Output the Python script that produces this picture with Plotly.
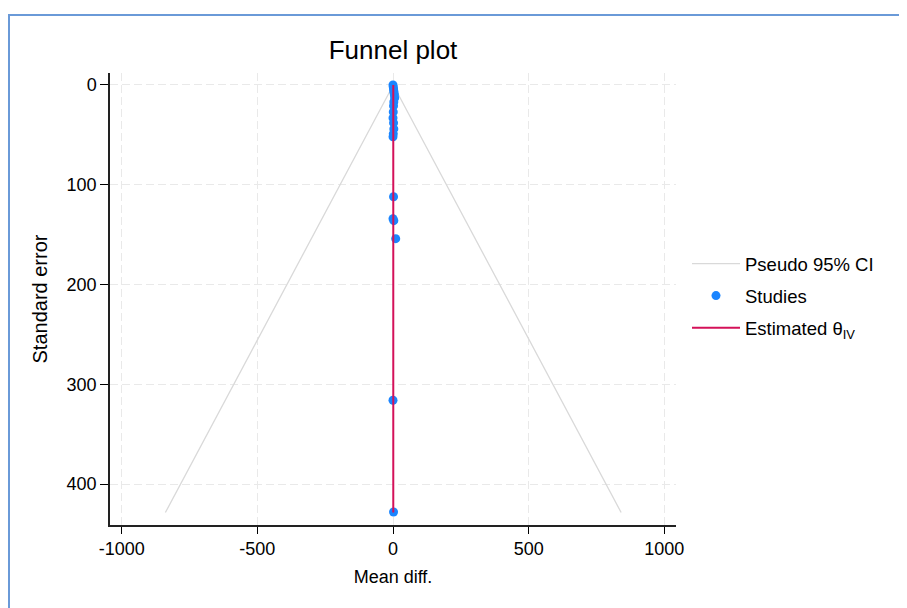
import plotly.graph_objects as go

# Study data (mean difference, standard error)
study_effect = [0, 1, 2, 3, 4, 5, 6, 3, 2, 1, 0, 2, 3, 1, 0, 2, 0, 3, 10, 0, 2]
study_se = [0, 2, 4, 6, 8, 10, 13, 17, 21, 27, 33, 38, 44, 49, 52, 112, 134, 136, 154, 316, 428]

theta_iv = 1.0
se_max = 428.5
z = 1.96

x_ticks = [-1000, -500, 0, 500, 1000]
x_labels = ["-1000", "-500", "0", "500", "1000"]
y_ticks = [0, 100, 200, 300, 400]
y_labels = ["0", "100", "200", "300", "400"]

FONT = "Liberation Sans, Arial, sans-serif"

fig = go.Figure()

fig.add_trace(go.Scatter(
    x=[theta_iv - z * se_max, theta_iv, theta_iv + z * se_max],
    y=[se_max, 0, se_max],
    mode="lines", line=dict(color="#d9d9d9", width=1.3),
    name="Pseudo 95% CI", legendgroup="a"))

fig.add_trace(go.Scatter(
    x=study_effect, y=study_se, mode="markers",
    marker=dict(color="#1a85ff", size=9),
    name="Studies", legendgroup="b"))

fig.add_trace(go.Scatter(
    x=[theta_iv, theta_iv], y=[0, se_max], mode="lines",
    line=dict(color="#d41159", width=2),
    name="Estimated θ<sub>IV</sub>", legendgroup="c"))

# page body has an 8px margin: positions below are reference px minus 8
W, H = 899, 600
L, R, T, B = 102, 668, 65, 517
pw, ph = R - L, B - T

fig.update_layout(
    width=W, height=H,
    margin=dict(l=L, r=W - R, t=T, b=H - B),
    paper_bgcolor="white", plot_bgcolor="white",
    font=dict(family=FONT, size=18, color="black"),
    title=dict(text="Funnel plot", x=(385 - L) / pw, xref="paper", xanchor="center",
               y=1 - 42 / H, yanchor="middle", font=dict(size=26)),
    showlegend=True,
    legend=dict(x=(679 - L) / pw, xanchor="left", y=1 - (288 - T) / ph, yanchor="middle",
                font=dict(size=18.5), bgcolor="rgba(0,0,0,0)", tracegroupgap=5,
                itemwidth=48),
    xaxis=dict(range=[-1043, 1043], tickvals=x_ticks, ticktext=x_labels,
               ticks="outside", ticklen=7, tickcolor="black",
               showline=True, linecolor="#222", linewidth=1.5, zeroline=False,
               showgrid=True, gridcolor="#e9e9e9", griddash="8px,4px", gridwidth=1.2,
               title=dict(text="Mean diff.", font=dict(size=18), standoff=12)),
    yaxis=dict(range=[441, -12], tickvals=y_ticks, ticktext=y_labels,
               ticks="outside", ticklen=8, tickcolor="black",
               showline=True, linecolor="#222", linewidth=1.5, zeroline=False,
               showgrid=True, gridcolor="#e9e9e9", griddash="8px,4px", gridwidth=1.2,
               title=dict(text="Standard error", font=dict(size=20), standoff=14)),
    shapes=[dict(type="rect", xref="paper", yref="paper",
                 x0=(1 - L) / pw, x1=1.6, y0=-0.6, y1=1 + (T - 7) / ph,
                 line=dict(color="#6a9ad8", width=2), fillcolor="rgba(0,0,0,0)",
                 layer="below")],
)

fig.write_html("out.html")
